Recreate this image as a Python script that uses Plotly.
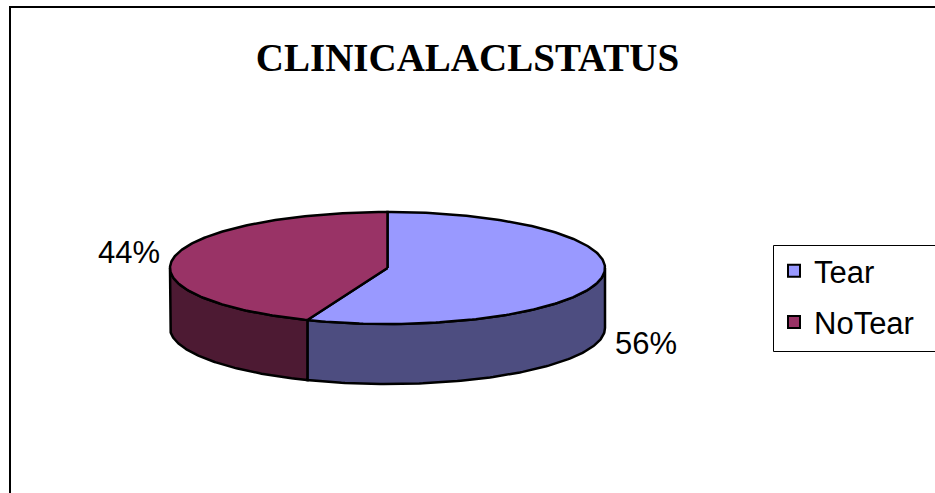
import numpy as np
import plotly.graph_objects as go

# ---- data ----
categories = ["Tear", "NoTear"]
values = [56, 44]
top_colors = ["#9999FF", "#993366"]
side_colors = ["#4D4D80", "#4D1A33"]
title_text = "CLINICALACLSTATUS"

# ---- geometry (pixel-space axes) ----
W, H = 935, 493
cx, cy = 387.5, 268.0
a, b = 217.5, 56.0
depth = 60.0

total = float(sum(values))
fig = go.Figure()

def ell(t_deg, dy=0.0):
    t = np.radians(t_deg)
    return cx + a * np.cos(t), cy - b * np.sin(t) + dy

# slice angle ranges: start at 12 o'clock, go clockwise
ranges = []
start = 90.0
for v in values:
    end = start - 360.0 * v / total
    ranges.append((start, end))
    start = end

# side faces (front visible part)
for (s, e), col in zip(ranges, side_colors):
    for k in (0, -1):
        lo = max(e, -180.0 + 360 * k)
        hi = min(s, 0.0 + 360 * k)
        if hi - lo > 0.01:
            ts = np.linspace(hi, lo, 120)
            xt, yt = ell(ts)
            xb, yb = ell(ts[::-1], depth)
            xs = np.concatenate([xt, xb, xt[:1]])
            ys = np.concatenate([yt, yb, yt[:1]])
            fig.add_trace(go.Scatter(x=xs, y=ys, mode="lines", fill="toself",
                                     fillcolor=col, line=dict(color="black", width=2.5),
                                     hoverinfo="skip", showlegend=False))

# top faces
for (s, e), col in zip(ranges, top_colors):
    ts = np.linspace(s, e, 200)
    xt, yt = ell(ts)
    xs = np.concatenate([[cx], xt, [cx]])
    ys = np.concatenate([[cy], yt, [cy]])
    fig.add_trace(go.Scatter(x=xs, y=ys, mode="lines", fill="toself",
                             fillcolor=col, line=dict(color="black", width=2.5),
                             hoverinfo="skip", showlegend=False))

# percentage labels
for (s, e), v in zip(ranges, values):
    mid = np.radians((s + e) / 2.0)
    lx = cx + (a + 46) * np.cos(mid)
    ly = cy - (b + 27) * np.sin(mid) + (depth if np.sin(mid) < 0 else 0)
    fig.add_annotation(x=lx, y=ly, xref="x", yref="y", text=f"{round(100 * v / total)}%",
                       showarrow=False, xanchor="center", yanchor="middle",
                       font=dict(family="Liberation Sans, Arial", size=31, color="black"))

# legend entries
for i, (c, col) in enumerate(zip(categories, top_colors)):
    fig.add_trace(go.Scatter(x=[None], y=[None], mode="markers", name=c,
                             legendgroup=f"g{i}",
                             marker=dict(symbol="square", size=19, color=col,
                                         line=dict(color="black", width=2))))

# chart frame
fig.add_shape(type="rect", xref="x", yref="y", x0=10, y0=7, x1=W + 5, y1=H + 5,
              line=dict(color="black", width=2), fillcolor="rgba(0,0,0,0)", layer="below")
# legend frame (extends past the right edge, as in the original)
fig.add_shape(type="rect", xref="x", yref="y", x0=773.5, y0=245.5, x1=W + 10, y1=351.5,
              line=dict(color="black", width=1), fillcolor="white", layer="below")

fig.update_layout(
    width=W, height=H, autosize=False,
    margin=dict(l=0, r=0, t=0, b=0, pad=0, autoexpand=False),
    paper_bgcolor="white", plot_bgcolor="white",
    xaxis=dict(range=[0, W], visible=False, fixedrange=True),
    yaxis=dict(range=[H, 0], visible=False, fixedrange=True),
    title=dict(text=f"<b>{title_text}</b>", x=0.5, xanchor="center",
               y=1 - 57 / H, yanchor="middle",
               font=dict(family="Liberation Serif, Times New Roman", size=39, color="black")),
    showlegend=True,
    legend=dict(x=774 / W, y=1 - 244 / H, xanchor="left", yanchor="top",
                bgcolor="rgba(0,0,0,0)", borderwidth=0,
                font=dict(family="Liberation Sans, Arial", size=31, color="black"),
                tracegroupgap=8, itemsizing="constant"),
)

fig.write_html("out.html")
